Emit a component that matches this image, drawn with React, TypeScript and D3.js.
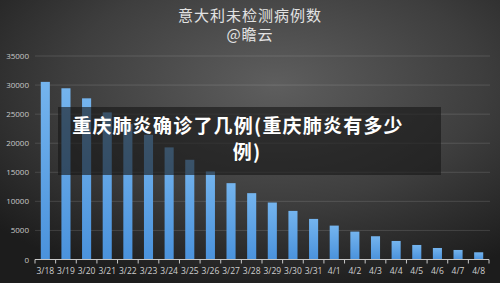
import React from "react";
import * as d3 from "d3";

const categories = ["3/18","3/19","3/20","3/21","3/22","3/23","3/24","3/25","3/26","3/27","3/28","3/29","3/30","3/31","4/1","4/2","4/3","4/4","4/5","4/6","4/7","4/8"];
const values = [30550,29450,27720,25300,23300,21450,19280,17150,15140,13130,11410,9800,8360,6980,5830,4800,4000,3190,2500,1980,1640,1240];
const yTicks = [0,5000,10000,15000,20000,25000,30000,35000];
const title = "意大利未检测病例数";
const subtitle = "@瞻云";
const overlayLines = ["重庆肺炎确诊了几例(重庆肺炎有多少", "例)"];

const W = 500, H = 283;
const left = 35, right = 489, top = 56, bottom = 259.5;

export default function App() {
  const x = d3.scaleBand<string>().domain(categories).range([left, right]).paddingInner(0.56).paddingOuter(0.28);
  const y = d3.scaleLinear().domain([0, 35000]).range([bottom, top]);
  const boundaries = d3.range(categories.length + 1).map(i => left + i * (right - left) / categories.length);
  return (
    <svg width={W} height={H} style={{ position: "absolute", left: 0, top: 0 }} fontFamily="'Open Sans', 'Noto Sans CJK SC', sans-serif">
      <defs>
        <radialGradient id="bg" cx="0.55" cy="0.3" r="0.75">
          <stop offset="0" stopColor="#5e5e5e" />
          <stop offset="0.55" stopColor="#3e3e3e" />
          <stop offset="1" stopColor="#1c1c1c" />
        </radialGradient>
        <linearGradient id="bar" x1="0" y1="0" x2="0" y2="1">
          <stop offset="0" stopColor="#74b4ee" />
          <stop offset="1" stopColor="#4a92dc" />
        </linearGradient>
      </defs>
      <rect x={0} y={0} width={W} height={H} fill="url(#bg)" />
      <text x={250} y={21} textAnchor="middle" fontSize={15} letterSpacing={1} fill="#e2e2e2" fontFamily="'Noto Sans CJK SC', sans-serif">{title}</text>
      <text x={250} y={40} textAnchor="middle" fontSize={15} letterSpacing={1} fill="#e2e2e2" fontFamily="'Noto Sans CJK SC', sans-serif">{subtitle}</text>
      {yTicks.map(t => (
        <g key={t}>
          {t > 0 && <line x1={left} x2={right + 1} y1={y(t)} y2={y(t)} stroke="rgba(255,255,255,0.13)" strokeWidth={1} />}
          <text x={29} y={y(t) + 3} textAnchor="end" fontSize={8} fill="#c8c8c8">{t}</text>
        </g>
      ))}
      {categories.map((c, i) => (
        <rect key={c} x={x(c)} y={y(values[i])} width={x.bandwidth()} height={bottom - y(values[i])} fill="url(#bar)" />
      ))}
      <line x1={left} x2={right} y1={bottom} y2={bottom} stroke="#c8c8c8" strokeWidth={1} />
      {boundaries.map((b, i) => (
        <line key={i} x1={b} x2={b} y1={bottom} y2={bottom + 4} stroke="#c8c8c8" strokeWidth={1} />
      ))}
      {categories.map(c => (
        <text key={c} x={(x(c) as number) + x.bandwidth() / 2} y={274} textAnchor="middle" fontSize={8.5} fill="#cfcfcf">{c}</text>
      ))}
      <rect x={58} y={107} width={383} height={68} fill="rgba(22,22,22,0.62)" />
      <text x={238} y={133} textAnchor="middle" fontSize={19} letterSpacing={1.2} fontWeight={700} fill="#ffffff" fontFamily="'Noto Sans CJK SC', sans-serif">{overlayLines[0]}</text>
      <text x={247} y={159} textAnchor="middle" fontSize={19} letterSpacing={1.2} fontWeight={700} fill="#ffffff" fontFamily="'Noto Sans CJK SC', sans-serif">{overlayLines[1]}</text>
    </svg>
  );
}
